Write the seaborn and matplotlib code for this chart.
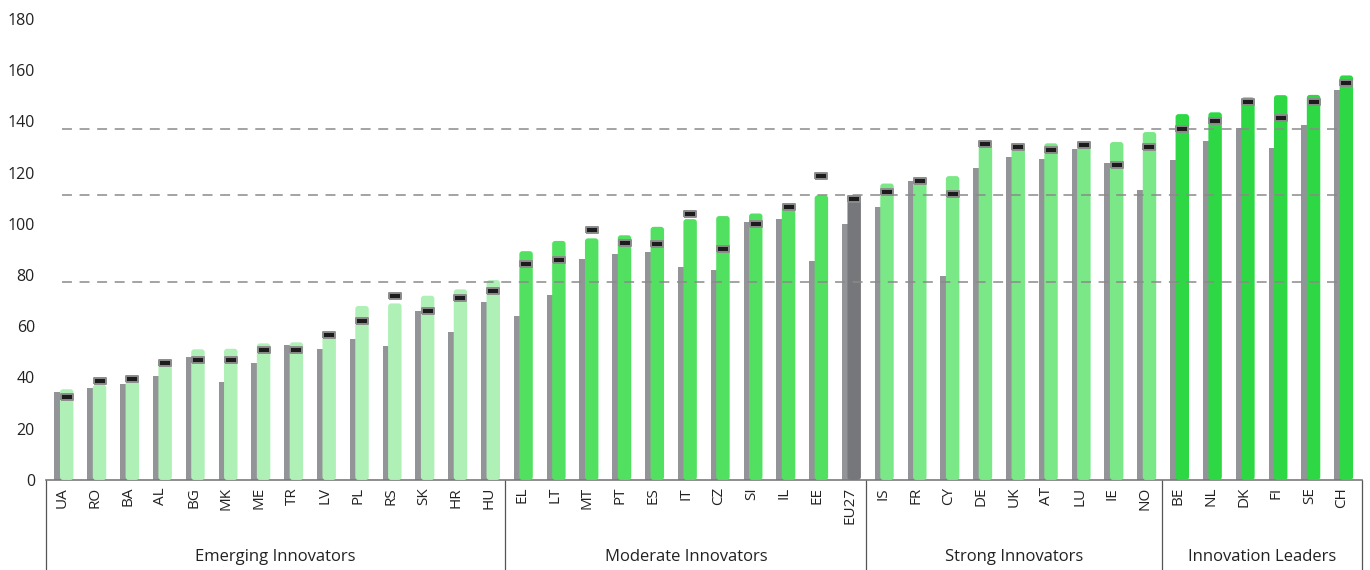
import numpy as np
import pandas as pd
import seaborn as sns
import matplotlib.pyplot as plt
from matplotlib.patches import FancyBboxPatch
import matplotlib.transforms as mtransforms


countries = ["UA", "RO", "BA", "AL", "BG", "MK", "ME", "TR", "LV", "PL", "RS", "SK", "HR", "HU",
             "EL", "LT", "MT", "PT", "ES", "IT", "CZ", "SI", "IL", "EE", "EU27",
             "IS", "FR", "CY", "DE", "UK", "AT", "LU", "IE", "NO",
             "BE", "NL", "DK", "FI", "SE", "CH"]

# performance relative to EU in 2016 (grey), current year (green), previous year (dash)
perf_2016 = [34.5, 35.8, 37.5, 40.7, 48.1, 38.1, 45.5, 52.8, 51.1, 55.1, 52.3, 66.1, 57.6, 69.6,
             64.1, 72.2, 86.4, 88.2, 89.0, 83.2, 81.9, 100.8, 101.7, 85.4, 100.0,
             106.6, 116.8, 79.6, 121.7, 126.0, 125.4, 129.0, 123.6, 113.1,
             124.9, 132.3, 137.2, 129.4, 138.5, 152.4]
perf_2023 = [35.4, 37.1, 39.4, 46.8, 51.0, 51.2, 53.3, 53.7, 57.5, 67.9, 68.9, 71.9, 74.4, 78.0,
             89.3, 93.3, 94.3, 95.5, 98.8, 101.8, 103.0, 104.0, 106.9, 111.1, 111.2,
             115.7, 117.7, 118.6, 130.7, 130.6, 131.4, 131.9, 131.9, 135.8,
             142.8, 143.5, 149.3, 150.2, 150.3, 157.9]
perf_2022 = [32.5, 38.7, 39.3, 45.8, 46.7, 46.9, 50.7, 50.8, 56.6, 62.2, 71.7, 66.1, 71.1, 73.7,
             84.4, 85.7, 97.5, 92.3, 92.1, 103.7, 90.0, 99.8, 106.6, 118.7, 109.5,
             112.4, 116.8, 111.5, 131.0, 129.8, 128.6, 130.8, 123.0, 130.0,
             137.1, 140.2, 147.6, 141.4, 147.4, 154.9]
colour_class = (["Emerging"] * 14 + ["Moderate"] * 10 + ["EU"] + ["Strong"] * 9 + ["Leader"] * 6)

groups = ["Emerging Innovators", "Moderate Innovators", "Strong Innovators", "Innovation Leaders"]
group_bounds = [-0.5, 13.5, 24.5, 33.5, 39.6]
thresholds = [77.1, 111.1, 137.1]

palette = {"Emerging": "#aef0b6", "Moderate": "#52e060", "EU": "#76777b",
           "Strong": "#7ae887", "Leader": "#2ed845"}
grey = "#939498"

df = pd.DataFrame({"country": countries, "y2016": perf_2016, "y2023": perf_2023,
                   "y2022": perf_2022, "cls": colour_class})

sns.set_style("white")
plt.rcParams["font.family"] = ["Open Sans", "DejaVu Sans"]

fig = plt.figure(figsize=(13.7, 5.7), dpi=100)
ax = fig.add_axes([0.0336, 0.158, 0.9604, 0.809])

# grey bars (2016), shifted left
sns.barplot(data=df, x="country", y="y2016", color=grey, width=0.345,
            saturation=1, ax=ax, zorder=2)
for p in ax.patches:
    p.set_x(p.get_x() - 0.07)
    p.set_edgecolor("none")
n_grey = len(ax.patches)

# green bars (2023), shifted right, rounded
sns.barplot(data=df, x="country", y="y2023", hue="cls", palette=palette, dodge=False,
            width=0.41, saturation=1, legend=False, ax=ax)
for p in list(ax.patches)[n_grey:]:
    x0, y0, w, h = p.get_x() + 0.13, p.get_y(), p.get_width(), p.get_height()
    if h <= 0 or np.isnan(h):
        p.remove()
        continue
    fc = p.get_facecolor()
    p.remove()
    ax.add_patch(FancyBboxPatch((x0, y0), w, h,
                                boxstyle="round,pad=0,rounding_size=0.09",
                                mutation_aspect=13, facecolor=fc, edgecolor="none",
                                zorder=3, clip_on=False))

# previous year markers
rect = [(-1, -0.42), (1, -0.42), (1, 0.42), (-1, 0.42), (-1, -0.42)]
ax.plot(np.arange(len(countries)) + 0.13, df["y2022"], ls="", marker=rect, ms=8.6,
        mfc="#1c1c1c", mec="#8c8c8c", mew=1.4, zorder=5)

# threshold lines
for t in thresholds:
    ax.plot([0, 38.85], [t, t], color="#8a8a8a", lw=1.1, ls=(0, (6.5, 5)), zorder=4)

ax.set_xlim(-0.5, 39.6)
ax.set_ylim(0, 180)
ax.set_yticks(range(0, 181, 20))
ax.set_xlabel("")
ax.set_ylabel("")
ax.set_xticks(range(len(countries)))
ax.set_xticklabels(countries, rotation=90, fontsize=11, color="#222222")
ax.tick_params(axis="x", length=0, pad=5)
ax.tick_params(axis="y", length=0, pad=8, labelsize=11.5, labelcolor="#222222")
for s in ["top", "right", "left"]:
    ax.spines[s].set_visible(False)
ax.spines["bottom"].set_color("#7a7a7a")
ax.spines["bottom"].set_linewidth(1.2)

# group separators and labels below the axis
trans = mtransforms.blended_transform_factory(ax.transData, ax.transAxes)
for b in group_bounds:
    ax.plot([b, b], [0, -0.2], color="#555555", lw=0.9, transform=trans, clip_on=False)
for i, g in enumerate(groups):
    mid = (group_bounds[i] + group_bounds[i + 1]) / 2
    ax.text(mid, -0.167, g, transform=trans, ha="center", va="center",
            fontsize=12, color="#222222")

fig.savefig("out.png", dpi=100)
